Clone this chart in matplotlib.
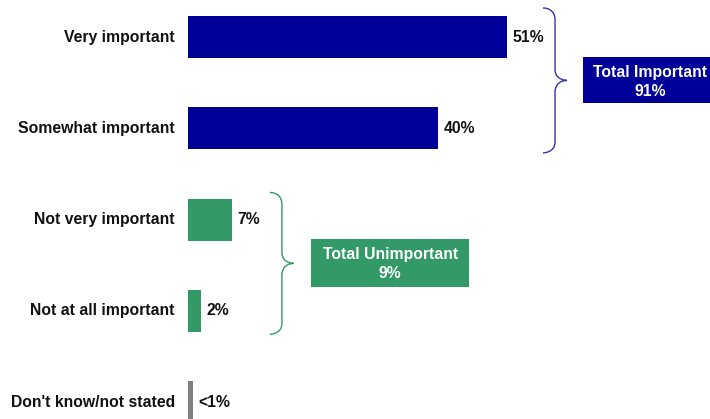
import matplotlib
matplotlib.use("Agg")
import matplotlib.pyplot as plt
from matplotlib.path import Path
from matplotlib.patches import PathPatch, Rectangle

plt.rcParams['font.family'] = ['Liberation Sans', 'DejaVu Sans']

categories = ["Very important", "Somewhat important", "Not very important",
              "Not at all important", "Don't know/not stated"]
values = [51, 40, 7, 2, 0.8]
value_labels = ["51%", "40%", "7%", "2%", "<1%"]
group_labels = ["Total Important\n91%", "Total Unimportant\n9%"]

BLUE = "#000099"
GREEN = "#339966"
GRAY = "#808080"
colors = [BLUE, BLUE, GREEN, GREEN, GRAY]
FS = 11.3

fig = plt.figure(figsize=(7.10, 4.19), dpi=100)
ax = fig.add_axes([0, 0, 1, 1])
ax.set_xlim(-30.08, 83.52)
ax.set_ylim(4.186, -0.4055)
ax.axis("off")

ypos = list(range(len(categories)))
ax.barh(ypos, values, height=0.46, color=colors)

for y, v, lab, cat in zip(ypos, values, value_labels, categories):
    ax.text(v + 0.9, y, lab, ha="left", va="center", fontsize=FS,
            fontweight="bold", color="#111111")
    ax.text(-2.1, y, cat, ha="right", va="center", fontsize=FS,
            fontweight="bold", color="#111111")


def brace(x0, ytop, ybot, w, r, color):
    ymid = (ytop + ybot) / 2
    xm = x0 + w / 2
    xt = x0 + w
    verts = [
        (x0, ytop),
        (xm, ytop), (xm, ytop + r), (xm, ytop + r),
        (xm, ymid - r),
        (xm, ymid), (xt, ymid), (xt, ymid),
        (xm, ymid), (xm, ymid + r), (xm, ymid + r),
        (xm, ybot - r),
        (xm, ybot), (x0, ybot), (x0, ybot),
    ]
    codes = [Path.MOVETO,
             Path.CURVE4, Path.CURVE4, Path.CURVE4,
             Path.LINETO,
             Path.CURVE4, Path.CURVE4, Path.CURVE4,
             Path.CURVE4, Path.CURVE4, Path.CURVE4,
             Path.LINETO,
             Path.CURVE4, Path.CURVE4, Path.CURVE4]
    ax.add_patch(PathPatch(Path(verts, codes), fill=False, edgecolor=color,
                           linewidth=1.0))


# Important group
brace(values[0] + 5.8, -0.318, 1.27, 3.85, 0.12, "#3333aa")
ax.add_patch(Rectangle((63.2, 0.219), 21.0, 0.504, facecolor=BLUE,
                       edgecolor="none", clip_on=False))
ax.text(73.9, 0.49, group_labels[0], ha="center", va="center",
        fontsize=FS, fontweight="bold", color="white", linespacing=1.3)

# Unimportant group
brace(values[2] + 6.1, 1.704, 3.258, 3.85, 0.12, GREEN)
ax.add_patch(Rectangle((19.7, 2.214), 25.3, 0.526, facecolor=GREEN,
                       edgecolor="none"))
ax.text(32.35, 2.49, group_labels[1], ha="center", va="center",
        fontsize=FS, fontweight="bold", color="white", linespacing=1.3)

fig.savefig("out.png", dpi=100)
